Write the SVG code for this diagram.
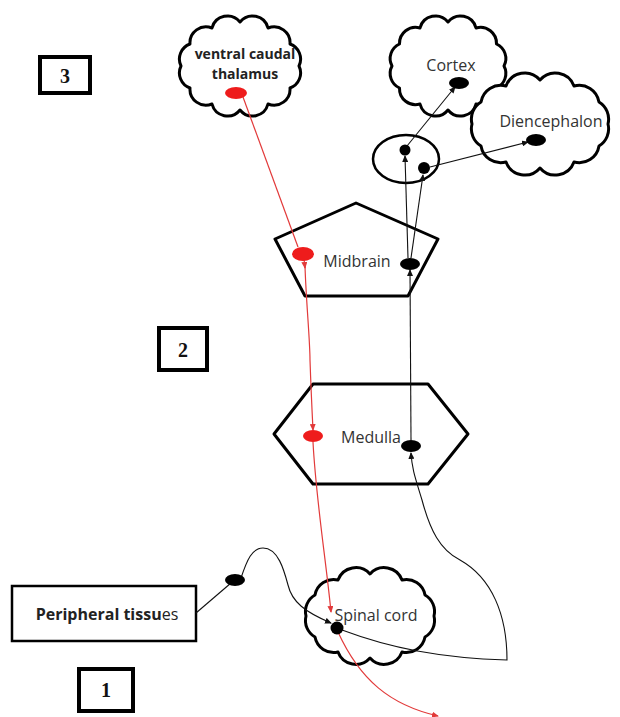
<svg xmlns="http://www.w3.org/2000/svg" width="620" height="717" viewBox="0 0 620 717">
<style>
.shape{fill:#fff;stroke:#000;stroke-width:3;stroke-linejoin:round}
.lbl{font-family:"Open Sans","Liberation Sans",sans-serif;font-size:16px;fill:#333;text-anchor:middle}
.bold{font-family:"Open Sans","Liberation Sans",sans-serif;font-size:14px;font-weight:bold;fill:#222;text-anchor:middle}
.num{font-family:"Liberation Serif",serif;font-size:20px;font-weight:bold;fill:#111;text-anchor:middle}
.box{fill:#fff;stroke:#000;stroke-width:4}
.bl{fill:none;stroke:#111;stroke-width:1.1}
.rl{fill:none;stroke:#e23a3a;stroke-width:1.2}
.bd{fill:#000}
.rd{fill:#ee1c1c}
</style>
<defs>
<marker id="ab" markerWidth="7" markerHeight="6" refX="6" refY="3" orient="auto" markerUnits="userSpaceOnUse"><path d="M0,0 L7,3 L0,6 Z" fill="#111"/></marker>
<marker id="ar" markerWidth="7" markerHeight="6" refX="6" refY="3" orient="auto" markerUnits="userSpaceOnUse"><path d="M0,0 L7,3 L0,6 Z" fill="#e23a3a"/></marker>
</defs>

<g id="box3"><rect class="box" x="40" y="57" width="50" height="36"/><text class="num" x="65" y="83">3</text></g>
<g id="box2"><rect class="box" x="159" y="328" width="48" height="42"/><text class="num" x="183" y="357">2</text></g>
<g id="box1"><rect class="box" x="79" y="669" width="54" height="42"/><text class="num" x="106" y="697">1</text></g>

<g id="thalamus">
<path class="shape" d="M240,22 A16,16 0 0 1 268,28 A16,16 0 0 1 290,44 A16,16 0 0 1 299,66 A16,16 0 0 1 290,88 A16,16 0 0 1 268,104 A16,16 0 0 1 240,110 A16,16 0 0 1 212,104 A16,16 0 0 1 190,88 A16,16 0 0 1 181,66 A16,16 0 0 1 190,44 A16,16 0 0 1 212,28 A16,16 0 0 1 240,22 Z"/>
<text class="bold" x="245" y="59">ventral caudal</text>
<text class="bold" x="245" y="79">thalamus</text>
</g>

<g id="cortex">
<path class="shape" d="M448,22 A16,16 0 0 1 476,28 A16,16 0 0 1 496.5,44 A16,16 0 0 1 504,66 A16,16 0 0 1 496.5,88 A16,16 0 0 1 476,104 A16,16 0 0 1 448,110 A16,16 0 0 1 420,104 A16,16 0 0 1 399.5,88 A16,16 0 0 1 392,66 A16,16 0 0 1 399.5,44 A16,16 0 0 1 420,28 A16,16 0 0 1 448,22 Z"/>
<text class="lbl" x="451" y="71">Cortex</text>
</g>

<g id="diencephalon">
<path class="shape" d="M540,80 A20,20 0 0 1 574,86 A20,20 0 0 1 599,102 A20,20 0 0 1 608,124 A20,20 0 0 1 599,146 A20,20 0 0 1 574,162 A20,20 0 0 1 540,168 A20,20 0 0 1 506,162 A20,20 0 0 1 481,146 A20,20 0 0 1 472,124 A20,20 0 0 1 481,102 A20,20 0 0 1 506,86 A20,20 0 0 1 540,80 Z"/>
<text class="lbl" x="551" y="127">Diencephalon</text>
</g>

<g id="relay">
<ellipse class="shape" cx="406" cy="159" rx="33" ry="24" style="stroke-width:2.5"/>
</g>

<g id="midbrain">
<polygon class="shape" points="356,203 438,239 408,296 305,296 275,239"/>
<text class="lbl" x="357" y="267">Midbrain</text>
</g>

<g id="medulla">
<polygon class="shape" points="313,384 428,384 468,434 428,484 313,484 274,434"/>
<text class="lbl" x="371" y="443">Medulla</text>
</g>

<g id="spinal-cord">
<path class="shape" d="M370,574 A19,19 0 0 1 402,580 A19,19 0 0 1 425,595 A19,19 0 0 1 434,616 A19,19 0 0 1 425,637 A19,19 0 0 1 402,652 A19,19 0 0 1 370,658 A19,19 0 0 1 338,652 A19,19 0 0 1 315,637 A19,19 0 0 1 306,616 A19,19 0 0 1 315,595 A19,19 0 0 1 338,580 A19,19 0 0 1 370,574 Z"/>
<text class="lbl" x="376" y="621">Spinal cord</text>
</g>

<g id="peripheral">
<rect x="12" y="586" width="184" height="55" fill="#fff" stroke="#000" stroke-width="2.5"/>
<text x="107" y="620" font-family="'Open Sans','Liberation Sans',sans-serif" font-size="16" fill="#222" text-anchor="middle"><tspan font-weight="bold">Peripheral tissu</tspan>es</text>
</g>

<g id="connectors">
<path class="rl" d="M243,97 L298,247"/>
<path class="rl" d="M304,259 L305,268" marker-end="url(#ar)"/>
<path class="rl" d="M305,266 C306,300 310,340 310,360 C311,390 312,410 313,430" marker-end="url(#ar)"/>
<path class="rl" d="M313,442 C316,500 326,560 331,612" marker-end="url(#ar)"/>
<path class="rl" d="M338,632 C360,680 390,705 438,716" marker-end="url(#ar)"/>
<path class="bl" d="M196,613 L231,583"/>
<path class="bl" d="M241,578 C247,560 252,548 263,548 C278,548 284,570 288,585 C292,602 305,612 331,623" marker-end="url(#ab)"/>
<path class="bl" d="M342,630 C390,648 440,658 507,660 C507,615 492,578 460,560 C440,550 430,530 422,500 C416,480 412,470 411,453" marker-end="url(#ab)"/>
<path class="bl" d="M411,440 L410,270" marker-end="url(#ab)"/>
<path class="bl" d="M408,258 L405,156" marker-end="url(#ab)"/>
<path class="bl" d="M411,258 L423,175" marker-end="url(#ab)"/>
<path class="bl" d="M407,146 L455,87" marker-end="url(#ab)"/>
<path class="bl" d="M430,167 L528,142" marker-end="url(#ab)"/>
</g>

<g id="dots">
<ellipse class="rd" cx="236" cy="93" rx="11" ry="6"/>
<ellipse class="bd" cx="459" cy="83" rx="10" ry="6"/>
<ellipse class="bd" cx="536" cy="140" rx="10" ry="6"/>
<circle class="bd" cx="405" cy="150" r="5.5"/>
<circle class="bd" cx="424" cy="168" r="6"/>
<ellipse class="rd" cx="303" cy="254" rx="11" ry="7"/>
<ellipse class="bd" cx="410" cy="264" rx="10" ry="6"/>
<ellipse class="rd" cx="313" cy="436" rx="10" ry="6"/>
<ellipse class="bd" cx="411" cy="446" rx="10" ry="6"/>
<circle class="bd" cx="337" cy="628" r="6.5"/>
<ellipse class="bd" cx="235" cy="580" rx="10" ry="6"/>
</g>
</svg>
